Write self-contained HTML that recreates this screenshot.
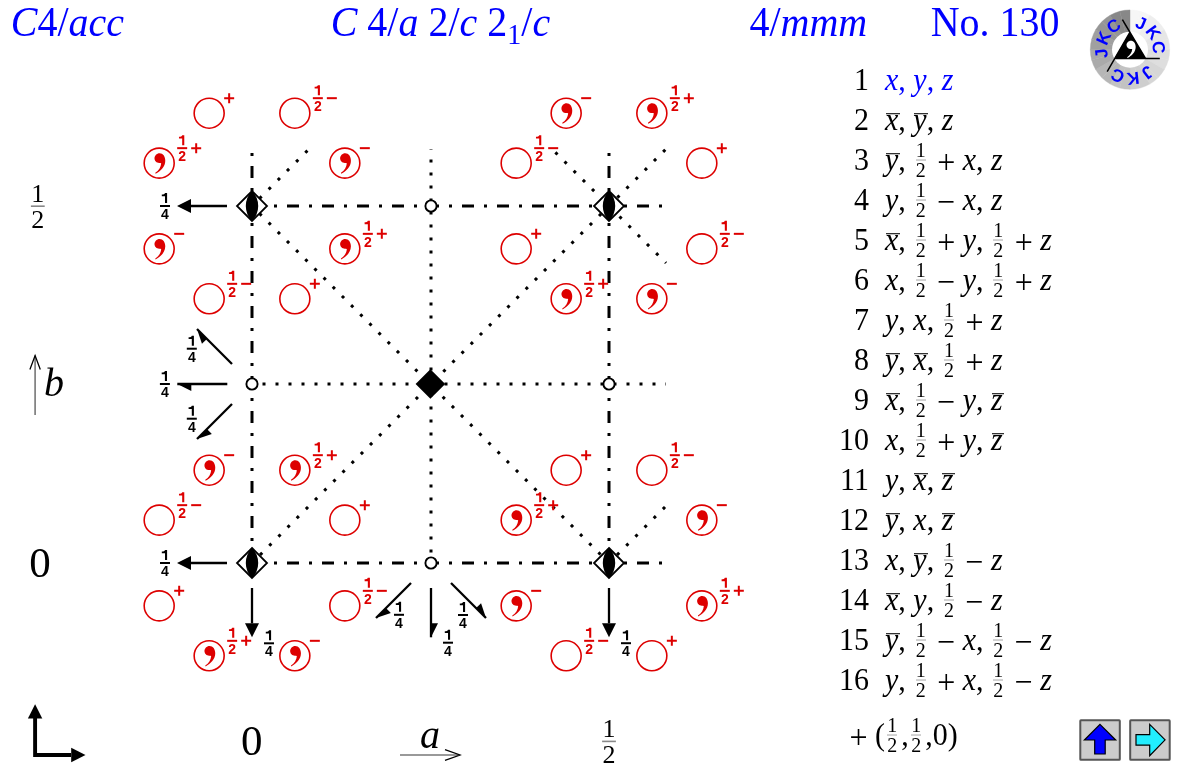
<!DOCTYPE html>
<html><head><meta charset="utf-8">
<style>
html,body{margin:0;padding:0;background:#fff;width:1180px;height:770px;overflow:hidden}
body{position:relative;font-family:"Liberation Serif",serif}
svg{position:absolute;left:0;top:0;will-change:transform}
.row{will-change:transform;transform:scaleY(1.05);transform-origin:0 30.1px;position:absolute;left:0;width:1180px;height:40px;font-size:30px;line-height:40px;white-space:nowrap}
.n{position:absolute;right:311px;top:0}
.c{position:absolute;left:885px;top:0}
.blue{color:#0000ff}
.op{font-size:32px;position:relative;top:2.5px;line-height:0}
.ov{position:relative}
.ov::after{content:"";position:absolute;left:0.02em;right:-0.06em;top:11px;border-top:1.1px solid currentColor}
.fr{display:inline-block;vertical-align:-7.4px;font-size:20px;line-height:18.2px;text-align:center;margin:0 4px 0 2.3px}
.fr span{display:block}
.fr .b{border-top:1.5px solid #aaa}
.lb{font-family:"Liberation Sans",sans-serif;font-weight:bold;font-size:14px;text-anchor:middle}
</style></head><body>
<svg width="1180" height="770" viewBox="0 0 1180 770">
<path d="M252 206H666M252 563H666" stroke="#000" stroke-width="3" fill="none" stroke-dasharray="12 10 3 10"/>
<path d="M252 563V149M609 563V149" stroke="#000" stroke-width="3" fill="none" stroke-dasharray="12 10 3 10"/>
<path d="M249.5 384H666" stroke="#000" stroke-width="3" fill="none" stroke-dasharray="3 10"/>
<path d="M431 565.5V149" stroke="#000" stroke-width="3" fill="none" stroke-dasharray="3 10"/>
<path d="M252 206L609.00 563.00" stroke="#000" stroke-width="3" fill="none" stroke-dasharray="3 9.954" stroke-dashoffset="2.350"/>
<path d="M252 206L308.00 150.00" stroke="#000" stroke-width="3" fill="none" stroke-dasharray="3 9.954" stroke-dashoffset="2.350"/>
<path d="M252 563L666.00 149.00" stroke="#000" stroke-width="3" fill="none" stroke-dasharray="3 9.954" stroke-dashoffset="1.500"/>
<path d="M609 563L666.00 506.00" stroke="#000" stroke-width="3" fill="none" stroke-dasharray="3 9.954" stroke-dashoffset="1.500"/>
<path d="M609 206L553.00 150.00" stroke="#000" stroke-width="3" fill="none" stroke-dasharray="3 9.954" stroke-dashoffset="-8.060"/>
<path d="M609 206L666.00 263.00" stroke="#000" stroke-width="3" fill="none" stroke-dasharray="3 9.954" stroke-dashoffset="-1.894"/>
<path d="M252 191.0L267.0 206L252 221.0L237.0 206Z" fill="#fff" stroke="#000" stroke-width="1.8"/>
<path d="M252 190.8A21.73 21.73 0 0 1 252 221.2A21.73 21.73 0 0 1 252 190.8Z" fill="#000"/>
<path d="M609 191.0L624.0 206L609 221.0L594.0 206Z" fill="#fff" stroke="#000" stroke-width="1.8"/>
<path d="M609 190.8A21.73 21.73 0 0 1 609 221.2A21.73 21.73 0 0 1 609 190.8Z" fill="#000"/>
<path d="M252 548.0L267.0 563L252 578.0L237.0 563Z" fill="#fff" stroke="#000" stroke-width="1.8"/>
<path d="M252 547.8A21.73 21.73 0 0 1 252 578.2A21.73 21.73 0 0 1 252 547.8Z" fill="#000"/>
<path d="M609 548.0L624.0 563L609 578.0L594.0 563Z" fill="#fff" stroke="#000" stroke-width="1.8"/>
<path d="M609 547.8A21.73 21.73 0 0 1 609 578.2A21.73 21.73 0 0 1 609 547.8Z" fill="#000"/>
<path d="M430.4 369.2L445.2 384.0L430.4 398.8L415.59999999999997 384.0Z" fill="#000"/>
<circle cx="252" cy="384" r="5.6" fill="#fff" stroke="#000" stroke-width="1.9"/>
<circle cx="431" cy="206" r="5.6" fill="#fff" stroke="#000" stroke-width="1.9"/>
<circle cx="609" cy="384" r="5.6" fill="#fff" stroke="#000" stroke-width="1.9"/>
<circle cx="431" cy="563" r="5.6" fill="#fff" stroke="#000" stroke-width="1.9"/>
<path d="M227.00 206.00L191.00 206.00" stroke="#000" stroke-width="2.3"/>
<path d="M177.00 206.00L191.00 213.00L191.00 199.00Z" fill="#000"/>
<path d="M227.00 563.00L191.00 563.00" stroke="#000" stroke-width="2.3"/>
<path d="M177.00 563.00L191.00 570.00L191.00 556.00Z" fill="#000"/>
<path d="M252.00 588.00L252.00 623.30" stroke="#000" stroke-width="2.3"/>
<path d="M252.00 637.30L259.00 623.30L245.00 623.30Z" fill="#000"/>
<path d="M609.00 588.00L609.00 623.30" stroke="#000" stroke-width="2.3"/>
<path d="M609.00 637.30L616.00 623.30L602.00 623.30Z" fill="#000"/>
<path d="M227.30 384.00L177.30 384.00" stroke="#000" stroke-width="2.3"/>
<path d="M177.30 384.00L191.30 391.00L191.30 384.00Z" fill="#000"/>
<path d="M232.00 364.00L197.00 329.00" stroke="#000" stroke-width="2.3"/>
<path d="M197.00 329.00L201.95 343.85L206.90 338.90Z" fill="#000"/>
<path d="M232.00 404.00L197.00 439.00" stroke="#000" stroke-width="2.3"/>
<path d="M197.00 439.00L211.85 434.05L206.90 429.10Z" fill="#000"/>
<path d="M431.00 588.00L431.00 637.30" stroke="#000" stroke-width="2.3"/>
<path d="M431.00 637.30L438.00 623.30L431.00 623.30Z" fill="#000"/>
<path d="M411.00 583.00L376.00 618.00" stroke="#000" stroke-width="2.3"/>
<path d="M376.00 618.00L390.85 613.05L385.90 608.10Z" fill="#000"/>
<path d="M451.00 583.00L486.00 618.00" stroke="#000" stroke-width="2.3"/>
<path d="M486.00 618.00L481.05 603.15L476.10 608.10Z" fill="#000"/>
<path d="M160 206H170" stroke="#000" stroke-width="2"/>
<path transform="translate(165 206)" d="M0 -13H2.1V-3H0V-9.7H-3.2V-11.5C-1.6 -11.5 -0.2 -12 0 -13Z" fill="#000"/>
<text x="165" y="219.1" class="lb" fill="#000">4</text>
<path d="M160 563H170" stroke="#000" stroke-width="2"/>
<path transform="translate(165 563)" d="M0 -13H2.1V-3H0V-9.7H-3.2V-11.5C-1.6 -11.5 -0.2 -12 0 -13Z" fill="#000"/>
<text x="165" y="576.1" class="lb" fill="#000">4</text>
<path d="M264 643.3H274" stroke="#000" stroke-width="2"/>
<path transform="translate(269 643.3)" d="M0 -13H2.1V-3H0V-9.7H-3.2V-11.5C-1.6 -11.5 -0.2 -12 0 -13Z" fill="#000"/>
<text x="269" y="656.4" class="lb" fill="#000">4</text>
<path d="M621 643.2H631" stroke="#000" stroke-width="2"/>
<path transform="translate(626 643.2)" d="M0 -13H2.1V-3H0V-9.7H-3.2V-11.5C-1.6 -11.5 -0.2 -12 0 -13Z" fill="#000"/>
<text x="626" y="656.3000000000001" class="lb" fill="#000">4</text>
<path d="M186.8 348.7H196.8" stroke="#000" stroke-width="2"/>
<path transform="translate(191.8 348.7)" d="M0 -13H2.1V-3H0V-9.7H-3.2V-11.5C-1.6 -11.5 -0.2 -12 0 -13Z" fill="#000"/>
<text x="191.8" y="361.8" class="lb" fill="#000">4</text>
<path d="M159.9 384H169.9" stroke="#000" stroke-width="2"/>
<path transform="translate(164.9 384)" d="M0 -13H2.1V-3H0V-9.7H-3.2V-11.5C-1.6 -11.5 -0.2 -12 0 -13Z" fill="#000"/>
<text x="164.9" y="397.1" class="lb" fill="#000">4</text>
<path d="M186.8 418.7H196.8" stroke="#000" stroke-width="2"/>
<path transform="translate(191.8 418.7)" d="M0 -13H2.1V-3H0V-9.7H-3.2V-11.5C-1.6 -11.5 -0.2 -12 0 -13Z" fill="#000"/>
<text x="191.8" y="431.8" class="lb" fill="#000">4</text>
<path d="M394 614.8H404" stroke="#000" stroke-width="2"/>
<path transform="translate(399 614.8)" d="M0 -13H2.1V-3H0V-9.7H-3.2V-11.5C-1.6 -11.5 -0.2 -12 0 -13Z" fill="#000"/>
<text x="399" y="627.9" class="lb" fill="#000">4</text>
<path d="M458 615H468" stroke="#000" stroke-width="2"/>
<path transform="translate(463 615)" d="M0 -13H2.1V-3H0V-9.7H-3.2V-11.5C-1.6 -11.5 -0.2 -12 0 -13Z" fill="#000"/>
<text x="463" y="628.1" class="lb" fill="#000">4</text>
<path d="M443 642.7H453" stroke="#000" stroke-width="2"/>
<path transform="translate(448 642.7)" d="M0 -13H2.1V-3H0V-9.7H-3.2V-11.5C-1.6 -11.5 -0.2 -12 0 -13Z" fill="#000"/>
<text x="448" y="655.8000000000001" class="lb" fill="#000">4</text>
<circle cx="344.82" cy="520.16" r="15" fill="none" stroke="#dd0000" stroke-width="1.6"/>
<path d="M359.82 505.15999999999997H369.82M364.82 500.15999999999997V510.15999999999997" stroke="#dd0000" stroke-width="2"/>
<circle cx="701.82" cy="163.16" r="15" fill="none" stroke="#dd0000" stroke-width="1.6"/>
<path d="M716.8199999999999 148.15999999999997H726.8199999999999M721.8199999999999 143.15999999999997V153.15999999999997" stroke="#dd0000" stroke-width="2"/>
<circle cx="159.18" cy="605.84" r="15" fill="none" stroke="#dd0000" stroke-width="1.6"/>
<path d="M174.18 590.84H184.18M179.18 585.84V595.84" stroke="#dd0000" stroke-width="2"/>
<circle cx="516.18" cy="248.84" r="15" fill="none" stroke="#dd0000" stroke-width="1.6"/>
<path d="M531.1800000000001 233.83999999999997H541.1800000000001M536.1800000000001 228.83999999999997V238.83999999999997" stroke="#dd0000" stroke-width="2"/>
<circle cx="209.16" cy="113.18" r="15" fill="none" stroke="#dd0000" stroke-width="1.6"/>
<path d="M224.16 98.18H234.16M229.16 93.18V103.18" stroke="#dd0000" stroke-width="2"/>
<circle cx="566.16" cy="470.18" r="15" fill="none" stroke="#dd0000" stroke-width="1.6"/>
<path d="M581.1600000000001 455.18000000000006H591.1600000000001M586.1600000000001 450.18000000000006V460.18000000000006" stroke="#dd0000" stroke-width="2"/>
<circle cx="294.84" cy="298.82" r="15" fill="none" stroke="#dd0000" stroke-width="1.6"/>
<path d="M309.84 283.82H319.84M314.84 278.82V288.82" stroke="#dd0000" stroke-width="2"/>
<circle cx="651.84" cy="655.82" r="15" fill="none" stroke="#dd0000" stroke-width="1.6"/>
<path d="M666.84 640.82H676.84M671.84 635.82V645.82" stroke="#dd0000" stroke-width="2"/>
<circle cx="159.18" cy="163.16" r="15" fill="none" stroke="#dd0000" stroke-width="1.6"/>
<path transform="translate(159.18 163.16)" d="M0.4 -9.84C-2.5 -9.84 -4.7 -7.2 -4.7 -4.8C-4.7 -2.2 -2.6 -0.1 0 -0.1C0.7 -0.1 1.4 0 2 0.1C1.8 4 -0.5 7.5 -3.9 9.6L-3.6 10.6C1.5 7.8 6.1 3.5 6.1 -2.5C6.1 -6.8 3.8 -9.84 0.4 -9.84Z" fill="#dd0000"/>
<path d="M177.18 148.15999999999997H187.18" stroke="#dd0000" stroke-width="2"/>
<path transform="translate(182.18 148.15999999999997)" d="M0 -13H2.1V-3H0V-9.7H-3.2V-11.5C-1.6 -11.5 -0.2 -12 0 -13Z" fill="#dd0000"/>
<text x="182.18" y="161.25999999999996" class="lb" fill="#dd0000">2</text>
<path d="M191.18 148.15999999999997H201.18M196.18 143.15999999999997V153.15999999999997" stroke="#dd0000" stroke-width="2"/>
<circle cx="516.18" cy="520.16" r="15" fill="none" stroke="#dd0000" stroke-width="1.6"/>
<path transform="translate(516.18 520.16)" d="M0.4 -9.84C-2.5 -9.84 -4.7 -7.2 -4.7 -4.8C-4.7 -2.2 -2.6 -0.1 0 -0.1C0.7 -0.1 1.4 0 2 0.1C1.8 4 -0.5 7.5 -3.9 9.6L-3.6 10.6C1.5 7.8 6.1 3.5 6.1 -2.5C6.1 -6.8 3.8 -9.84 0.4 -9.84Z" fill="#dd0000"/>
<path d="M534.1800000000001 505.15999999999997H544.1800000000001" stroke="#dd0000" stroke-width="2"/>
<path transform="translate(539.1800000000001 505.15999999999997)" d="M0 -13H2.1V-3H0V-9.7H-3.2V-11.5C-1.6 -11.5 -0.2 -12 0 -13Z" fill="#dd0000"/>
<text x="539.1800000000001" y="518.26" class="lb" fill="#dd0000">2</text>
<path d="M548.1800000000001 505.15999999999997H558.1800000000001M553.1800000000001 500.15999999999997V510.15999999999997" stroke="#dd0000" stroke-width="2"/>
<circle cx="344.82" cy="248.84" r="15" fill="none" stroke="#dd0000" stroke-width="1.6"/>
<path transform="translate(344.82 248.84)" d="M0.4 -9.84C-2.5 -9.84 -4.7 -7.2 -4.7 -4.8C-4.7 -2.2 -2.6 -0.1 0 -0.1C0.7 -0.1 1.4 0 2 0.1C1.8 4 -0.5 7.5 -3.9 9.6L-3.6 10.6C1.5 7.8 6.1 3.5 6.1 -2.5C6.1 -6.8 3.8 -9.84 0.4 -9.84Z" fill="#dd0000"/>
<path d="M362.82 233.83999999999997H372.82" stroke="#dd0000" stroke-width="2"/>
<path transform="translate(367.82 233.83999999999997)" d="M0 -13H2.1V-3H0V-9.7H-3.2V-11.5C-1.6 -11.5 -0.2 -12 0 -13Z" fill="#dd0000"/>
<text x="367.82" y="246.93999999999997" class="lb" fill="#dd0000">2</text>
<path d="M376.82 233.83999999999997H386.82M381.82 228.83999999999997V238.83999999999997" stroke="#dd0000" stroke-width="2"/>
<circle cx="701.82" cy="605.84" r="15" fill="none" stroke="#dd0000" stroke-width="1.6"/>
<path transform="translate(701.82 605.84)" d="M0.4 -9.84C-2.5 -9.84 -4.7 -7.2 -4.7 -4.8C-4.7 -2.2 -2.6 -0.1 0 -0.1C0.7 -0.1 1.4 0 2 0.1C1.8 4 -0.5 7.5 -3.9 9.6L-3.6 10.6C1.5 7.8 6.1 3.5 6.1 -2.5C6.1 -6.8 3.8 -9.84 0.4 -9.84Z" fill="#dd0000"/>
<path d="M719.8199999999999 590.84H729.8199999999999" stroke="#dd0000" stroke-width="2"/>
<path transform="translate(724.8199999999999 590.84)" d="M0 -13H2.1V-3H0V-9.7H-3.2V-11.5C-1.6 -11.5 -0.2 -12 0 -13Z" fill="#dd0000"/>
<text x="724.8199999999999" y="603.94" class="lb" fill="#dd0000">2</text>
<path d="M733.8199999999999 590.84H743.8199999999999M738.8199999999999 585.84V595.84" stroke="#dd0000" stroke-width="2"/>
<circle cx="294.84" cy="470.18" r="15" fill="none" stroke="#dd0000" stroke-width="1.6"/>
<path transform="translate(294.84 470.18)" d="M0.4 -9.84C-2.5 -9.84 -4.7 -7.2 -4.7 -4.8C-4.7 -2.2 -2.6 -0.1 0 -0.1C0.7 -0.1 1.4 0 2 0.1C1.8 4 -0.5 7.5 -3.9 9.6L-3.6 10.6C1.5 7.8 6.1 3.5 6.1 -2.5C6.1 -6.8 3.8 -9.84 0.4 -9.84Z" fill="#dd0000"/>
<path d="M312.84 455.18H322.84" stroke="#dd0000" stroke-width="2"/>
<path transform="translate(317.84 455.18)" d="M0 -13H2.1V-3H0V-9.7H-3.2V-11.5C-1.6 -11.5 -0.2 -12 0 -13Z" fill="#dd0000"/>
<text x="317.84" y="468.28000000000003" class="lb" fill="#dd0000">2</text>
<path d="M326.84 455.18H336.84M331.84 450.18V460.18" stroke="#dd0000" stroke-width="2"/>
<circle cx="651.84" cy="113.18" r="15" fill="none" stroke="#dd0000" stroke-width="1.6"/>
<path transform="translate(651.84 113.18)" d="M0.4 -9.84C-2.5 -9.84 -4.7 -7.2 -4.7 -4.8C-4.7 -2.2 -2.6 -0.1 0 -0.1C0.7 -0.1 1.4 0 2 0.1C1.8 4 -0.5 7.5 -3.9 9.6L-3.6 10.6C1.5 7.8 6.1 3.5 6.1 -2.5C6.1 -6.8 3.8 -9.84 0.4 -9.84Z" fill="#dd0000"/>
<path d="M669.84 98.18H679.84" stroke="#dd0000" stroke-width="2"/>
<path transform="translate(674.84 98.18)" d="M0 -13H2.1V-3H0V-9.7H-3.2V-11.5C-1.6 -11.5 -0.2 -12 0 -13Z" fill="#dd0000"/>
<text x="674.84" y="111.28" class="lb" fill="#dd0000">2</text>
<path d="M683.84 98.18H693.84M688.84 93.18V103.18" stroke="#dd0000" stroke-width="2"/>
<circle cx="209.16" cy="655.82" r="15" fill="none" stroke="#dd0000" stroke-width="1.6"/>
<path transform="translate(209.16 655.82)" d="M0.4 -9.84C-2.5 -9.84 -4.7 -7.2 -4.7 -4.8C-4.7 -2.2 -2.6 -0.1 0 -0.1C0.7 -0.1 1.4 0 2 0.1C1.8 4 -0.5 7.5 -3.9 9.6L-3.6 10.6C1.5 7.8 6.1 3.5 6.1 -2.5C6.1 -6.8 3.8 -9.84 0.4 -9.84Z" fill="#dd0000"/>
<path d="M227.16 640.82H237.16" stroke="#dd0000" stroke-width="2"/>
<path transform="translate(232.16 640.82)" d="M0 -13H2.1V-3H0V-9.7H-3.2V-11.5C-1.6 -11.5 -0.2 -12 0 -13Z" fill="#dd0000"/>
<text x="232.16" y="653.9200000000001" class="lb" fill="#dd0000">2</text>
<path d="M241.16 640.82H251.16M246.16 635.82V645.82" stroke="#dd0000" stroke-width="2"/>
<circle cx="566.16" cy="298.82" r="15" fill="none" stroke="#dd0000" stroke-width="1.6"/>
<path transform="translate(566.16 298.82)" d="M0.4 -9.84C-2.5 -9.84 -4.7 -7.2 -4.7 -4.8C-4.7 -2.2 -2.6 -0.1 0 -0.1C0.7 -0.1 1.4 0 2 0.1C1.8 4 -0.5 7.5 -3.9 9.6L-3.6 10.6C1.5 7.8 6.1 3.5 6.1 -2.5C6.1 -6.8 3.8 -9.84 0.4 -9.84Z" fill="#dd0000"/>
<path d="M584.1600000000001 283.82H594.1600000000001" stroke="#dd0000" stroke-width="2"/>
<path transform="translate(589.1600000000001 283.82)" d="M0 -13H2.1V-3H0V-9.7H-3.2V-11.5C-1.6 -11.5 -0.2 -12 0 -13Z" fill="#dd0000"/>
<text x="589.1600000000001" y="296.92" class="lb" fill="#dd0000">2</text>
<path d="M598.1600000000001 283.82H608.1600000000001M603.1600000000001 278.82V288.82" stroke="#dd0000" stroke-width="2"/>
<circle cx="159.18" cy="248.84" r="15" fill="none" stroke="#dd0000" stroke-width="1.6"/>
<path transform="translate(159.18 248.84)" d="M0.4 -9.84C-2.5 -9.84 -4.7 -7.2 -4.7 -4.8C-4.7 -2.2 -2.6 -0.1 0 -0.1C0.7 -0.1 1.4 0 2 0.1C1.8 4 -0.5 7.5 -3.9 9.6L-3.6 10.6C1.5 7.8 6.1 3.5 6.1 -2.5C6.1 -6.8 3.8 -9.84 0.4 -9.84Z" fill="#dd0000"/>
<path d="M174.18 233.83999999999997H184.18" stroke="#dd0000" stroke-width="2"/>
<circle cx="516.18" cy="605.84" r="15" fill="none" stroke="#dd0000" stroke-width="1.6"/>
<path transform="translate(516.18 605.84)" d="M0.4 -9.84C-2.5 -9.84 -4.7 -7.2 -4.7 -4.8C-4.7 -2.2 -2.6 -0.1 0 -0.1C0.7 -0.1 1.4 0 2 0.1C1.8 4 -0.5 7.5 -3.9 9.6L-3.6 10.6C1.5 7.8 6.1 3.5 6.1 -2.5C6.1 -6.8 3.8 -9.84 0.4 -9.84Z" fill="#dd0000"/>
<path d="M531.1800000000001 590.84H541.1800000000001" stroke="#dd0000" stroke-width="2"/>
<circle cx="344.82" cy="163.16" r="15" fill="none" stroke="#dd0000" stroke-width="1.6"/>
<path transform="translate(344.82 163.16)" d="M0.4 -9.84C-2.5 -9.84 -4.7 -7.2 -4.7 -4.8C-4.7 -2.2 -2.6 -0.1 0 -0.1C0.7 -0.1 1.4 0 2 0.1C1.8 4 -0.5 7.5 -3.9 9.6L-3.6 10.6C1.5 7.8 6.1 3.5 6.1 -2.5C6.1 -6.8 3.8 -9.84 0.4 -9.84Z" fill="#dd0000"/>
<path d="M359.82 148.15999999999997H369.82" stroke="#dd0000" stroke-width="2"/>
<circle cx="701.82" cy="520.16" r="15" fill="none" stroke="#dd0000" stroke-width="1.6"/>
<path transform="translate(701.82 520.16)" d="M0.4 -9.84C-2.5 -9.84 -4.7 -7.2 -4.7 -4.8C-4.7 -2.2 -2.6 -0.1 0 -0.1C0.7 -0.1 1.4 0 2 0.1C1.8 4 -0.5 7.5 -3.9 9.6L-3.6 10.6C1.5 7.8 6.1 3.5 6.1 -2.5C6.1 -6.8 3.8 -9.84 0.4 -9.84Z" fill="#dd0000"/>
<path d="M716.8199999999999 505.15999999999997H726.8199999999999" stroke="#dd0000" stroke-width="2"/>
<circle cx="294.84" cy="655.82" r="15" fill="none" stroke="#dd0000" stroke-width="1.6"/>
<path transform="translate(294.84 655.82)" d="M0.4 -9.84C-2.5 -9.84 -4.7 -7.2 -4.7 -4.8C-4.7 -2.2 -2.6 -0.1 0 -0.1C0.7 -0.1 1.4 0 2 0.1C1.8 4 -0.5 7.5 -3.9 9.6L-3.6 10.6C1.5 7.8 6.1 3.5 6.1 -2.5C6.1 -6.8 3.8 -9.84 0.4 -9.84Z" fill="#dd0000"/>
<path d="M309.84 640.82H319.84" stroke="#dd0000" stroke-width="2"/>
<circle cx="651.84" cy="298.82" r="15" fill="none" stroke="#dd0000" stroke-width="1.6"/>
<path transform="translate(651.84 298.82)" d="M0.4 -9.84C-2.5 -9.84 -4.7 -7.2 -4.7 -4.8C-4.7 -2.2 -2.6 -0.1 0 -0.1C0.7 -0.1 1.4 0 2 0.1C1.8 4 -0.5 7.5 -3.9 9.6L-3.6 10.6C1.5 7.8 6.1 3.5 6.1 -2.5C6.1 -6.8 3.8 -9.84 0.4 -9.84Z" fill="#dd0000"/>
<path d="M666.84 283.82H676.84" stroke="#dd0000" stroke-width="2"/>
<circle cx="209.16" cy="470.18" r="15" fill="none" stroke="#dd0000" stroke-width="1.6"/>
<path transform="translate(209.16 470.18)" d="M0.4 -9.84C-2.5 -9.84 -4.7 -7.2 -4.7 -4.8C-4.7 -2.2 -2.6 -0.1 0 -0.1C0.7 -0.1 1.4 0 2 0.1C1.8 4 -0.5 7.5 -3.9 9.6L-3.6 10.6C1.5 7.8 6.1 3.5 6.1 -2.5C6.1 -6.8 3.8 -9.84 0.4 -9.84Z" fill="#dd0000"/>
<path d="M224.16 455.18H234.16" stroke="#dd0000" stroke-width="2"/>
<circle cx="566.16" cy="113.18" r="15" fill="none" stroke="#dd0000" stroke-width="1.6"/>
<path transform="translate(566.16 113.18)" d="M0.4 -9.84C-2.5 -9.84 -4.7 -7.2 -4.7 -4.8C-4.7 -2.2 -2.6 -0.1 0 -0.1C0.7 -0.1 1.4 0 2 0.1C1.8 4 -0.5 7.5 -3.9 9.6L-3.6 10.6C1.5 7.8 6.1 3.5 6.1 -2.5C6.1 -6.8 3.8 -9.84 0.4 -9.84Z" fill="#dd0000"/>
<path d="M581.1600000000001 98.18H591.1600000000001" stroke="#dd0000" stroke-width="2"/>
<circle cx="344.82" cy="605.84" r="15" fill="none" stroke="#dd0000" stroke-width="1.6"/>
<path d="M362.82 590.84H372.82" stroke="#dd0000" stroke-width="2"/>
<path transform="translate(367.82 590.84)" d="M0 -13H2.1V-3H0V-9.7H-3.2V-11.5C-1.6 -11.5 -0.2 -12 0 -13Z" fill="#dd0000"/>
<text x="367.82" y="603.94" class="lb" fill="#dd0000">2</text>
<path d="M376.82 590.84H386.82" stroke="#dd0000" stroke-width="2"/>
<circle cx="701.82" cy="248.84" r="15" fill="none" stroke="#dd0000" stroke-width="1.6"/>
<path d="M719.8199999999999 233.83999999999997H729.8199999999999" stroke="#dd0000" stroke-width="2"/>
<path transform="translate(724.8199999999999 233.83999999999997)" d="M0 -13H2.1V-3H0V-9.7H-3.2V-11.5C-1.6 -11.5 -0.2 -12 0 -13Z" fill="#dd0000"/>
<text x="724.8199999999999" y="246.93999999999997" class="lb" fill="#dd0000">2</text>
<path d="M733.8199999999999 233.83999999999997H743.8199999999999" stroke="#dd0000" stroke-width="2"/>
<circle cx="159.18" cy="520.16" r="15" fill="none" stroke="#dd0000" stroke-width="1.6"/>
<path d="M177.18 505.15999999999997H187.18" stroke="#dd0000" stroke-width="2"/>
<path transform="translate(182.18 505.15999999999997)" d="M0 -13H2.1V-3H0V-9.7H-3.2V-11.5C-1.6 -11.5 -0.2 -12 0 -13Z" fill="#dd0000"/>
<text x="182.18" y="518.26" class="lb" fill="#dd0000">2</text>
<path d="M191.18 505.15999999999997H201.18" stroke="#dd0000" stroke-width="2"/>
<circle cx="516.18" cy="163.16" r="15" fill="none" stroke="#dd0000" stroke-width="1.6"/>
<path d="M534.1800000000001 148.15999999999997H544.1800000000001" stroke="#dd0000" stroke-width="2"/>
<path transform="translate(539.1800000000001 148.15999999999997)" d="M0 -13H2.1V-3H0V-9.7H-3.2V-11.5C-1.6 -11.5 -0.2 -12 0 -13Z" fill="#dd0000"/>
<text x="539.1800000000001" y="161.25999999999996" class="lb" fill="#dd0000">2</text>
<path d="M548.1800000000001 148.15999999999997H558.1800000000001" stroke="#dd0000" stroke-width="2"/>
<circle cx="209.16" cy="298.82" r="15" fill="none" stroke="#dd0000" stroke-width="1.6"/>
<path d="M227.16 283.82H237.16" stroke="#dd0000" stroke-width="2"/>
<path transform="translate(232.16 283.82)" d="M0 -13H2.1V-3H0V-9.7H-3.2V-11.5C-1.6 -11.5 -0.2 -12 0 -13Z" fill="#dd0000"/>
<text x="232.16" y="296.92" class="lb" fill="#dd0000">2</text>
<path d="M241.16 283.82H251.16" stroke="#dd0000" stroke-width="2"/>
<circle cx="566.16" cy="655.82" r="15" fill="none" stroke="#dd0000" stroke-width="1.6"/>
<path d="M584.1600000000001 640.82H594.1600000000001" stroke="#dd0000" stroke-width="2"/>
<path transform="translate(589.1600000000001 640.82)" d="M0 -13H2.1V-3H0V-9.7H-3.2V-11.5C-1.6 -11.5 -0.2 -12 0 -13Z" fill="#dd0000"/>
<text x="589.1600000000001" y="653.9200000000001" class="lb" fill="#dd0000">2</text>
<path d="M598.1600000000001 640.82H608.1600000000001" stroke="#dd0000" stroke-width="2"/>
<circle cx="294.84" cy="113.18" r="15" fill="none" stroke="#dd0000" stroke-width="1.6"/>
<path d="M312.84 98.18H322.84" stroke="#dd0000" stroke-width="2"/>
<path transform="translate(317.84 98.18)" d="M0 -13H2.1V-3H0V-9.7H-3.2V-11.5C-1.6 -11.5 -0.2 -12 0 -13Z" fill="#dd0000"/>
<text x="317.84" y="111.28" class="lb" fill="#dd0000">2</text>
<path d="M326.84 98.18H336.84" stroke="#dd0000" stroke-width="2"/>
<circle cx="651.84" cy="470.18" r="15" fill="none" stroke="#dd0000" stroke-width="1.6"/>
<path d="M669.84 455.18000000000006H679.84" stroke="#dd0000" stroke-width="2"/>
<path transform="translate(674.84 455.18000000000006)" d="M0 -13H2.1V-3H0V-9.7H-3.2V-11.5C-1.6 -11.5 -0.2 -12 0 -13Z" fill="#dd0000"/>
<text x="674.84" y="468.2800000000001" class="lb" fill="#dd0000">2</text>
<path d="M683.84 455.18000000000006H693.84" stroke="#dd0000" stroke-width="2"/>
<path d="M35.1 718V755H71" stroke="#000" stroke-width="3.9" fill="none"/>
<path d="M35.1 704.3L42.3 718.6H27.9Z" fill="#000"/>
<path d="M85.5 755L71.2 747.8V762.2Z" fill="#000"/>
<g fill="#0000ff" font-family="Liberation Serif" font-size="40" transform="matrix(1 0 0 1.035 0 -1.25)">
<text x="10.8" y="35.6"><tspan font-style="italic">C</tspan>4/<tspan font-style="italic">acc</tspan></text>
<text x="330.7" y="35.6"><tspan font-style="italic">C</tspan> 4/<tspan font-style="italic">a</tspan> 2/<tspan font-style="italic">c</tspan> 2<tspan font-size="28" dy="8">1</tspan><tspan dy="-8">/</tspan><tspan font-style="italic">c</tspan></text>
<text x="749.5" y="35.6">4/<tspan font-style="italic">mmm</tspan></text>
<text x="930.7" y="35.6">No. 130</text>
</g>
<text x="37.8" y="201.89999999999998" font-family="Liberation Serif" font-size="26" text-anchor="middle" fill="#000">1</text>
<text x="37.8" y="227.7" font-family="Liberation Serif" font-size="26" text-anchor="middle" fill="#000">2</text>
<path d="M30.9 206.2H44.699999999999996" stroke="#888" stroke-width="1.6"/>
<text x="609" y="737.1" font-family="Liberation Serif" font-size="26" text-anchor="middle" fill="#000">1</text>
<text x="609" y="762.9" font-family="Liberation Serif" font-size="26" text-anchor="middle" fill="#000">2</text>
<path d="M602.1 741.4H615.9" stroke="#888" stroke-width="1.6"/>
<text x="40" y="576.6" font-family="Liberation Serif" font-size="43" text-anchor="middle">0</text>
<text x="251.8" y="755.4" font-family="Liberation Serif" font-size="43" text-anchor="middle">0</text>
<text x="44" y="395.5" font-family="Liberation Serif" font-style="italic" font-size="40">b</text>
<text x="420" y="747.5" font-family="Liberation Serif" font-style="italic" font-size="40">a</text>
<path d="M35.1 415V355.5" stroke="#777" stroke-width="1.6"/>
<path d="M29.9 369.5L35.1 355.6L40.3 369.5" stroke="#000" stroke-width="1.3" fill="none"/>
<path d="M400 755H458.5" stroke="#777" stroke-width="1.6"/>
<path d="M445 749.6L460 755L445 760.4" stroke="#000" stroke-width="1.3" fill="none"/>
<path d="M1130 49.65L1130.00 9.95A39.7 39.7 0 0 1 1140.28 11.30Z" fill="#f6f6f6" stroke="#f6f6f6" stroke-width="0.4"/>
<path d="M1130 49.65L1140.28 11.30A39.7 39.7 0 0 1 1149.85 15.27Z" fill="#f6f6f6" stroke="#f6f6f6" stroke-width="0.4"/>
<path d="M1130 49.65L1149.85 15.27A39.7 39.7 0 0 1 1158.07 21.58Z" fill="#eeeeee" stroke="#eeeeee" stroke-width="0.4"/>
<path d="M1130 49.65L1158.07 21.58A39.7 39.7 0 0 1 1164.38 29.80Z" fill="#eeeeee" stroke="#eeeeee" stroke-width="0.4"/>
<path d="M1130 49.65L1164.38 29.80A39.7 39.7 0 0 1 1168.35 39.37Z" fill="#e6e6e6" stroke="#e6e6e6" stroke-width="0.4"/>
<path d="M1130 49.65L1168.35 39.37A39.7 39.7 0 0 1 1169.70 49.65Z" fill="#e6e6e6" stroke="#e6e6e6" stroke-width="0.4"/>
<path d="M1130 49.65L1169.70 49.65A39.7 39.7 0 0 1 1168.35 59.93Z" fill="#dedede" stroke="#dedede" stroke-width="0.4"/>
<path d="M1130 49.65L1168.35 59.93A39.7 39.7 0 0 1 1164.38 69.50Z" fill="#dedede" stroke="#dedede" stroke-width="0.4"/>
<path d="M1130 49.65L1164.38 69.50A39.7 39.7 0 0 1 1158.07 77.72Z" fill="#d6d6d6" stroke="#d6d6d6" stroke-width="0.4"/>
<path d="M1130 49.65L1158.07 77.72A39.7 39.7 0 0 1 1149.85 84.03Z" fill="#d6d6d6" stroke="#d6d6d6" stroke-width="0.4"/>
<path d="M1130 49.65L1149.85 84.03A39.7 39.7 0 0 1 1140.28 88.00Z" fill="#cecece" stroke="#cecece" stroke-width="0.4"/>
<path d="M1130 49.65L1140.28 88.00A39.7 39.7 0 0 1 1130.00 89.35Z" fill="#cecece" stroke="#cecece" stroke-width="0.4"/>
<path d="M1130 49.65L1130.00 89.35A39.7 39.7 0 0 1 1119.72 88.00Z" fill="#c2c2c2" stroke="#c2c2c2" stroke-width="0.4"/>
<path d="M1130 49.65L1119.72 88.00A39.7 39.7 0 0 1 1110.15 84.03Z" fill="#c2c2c2" stroke="#c2c2c2" stroke-width="0.4"/>
<path d="M1130 49.65L1110.15 84.03A39.7 39.7 0 0 1 1101.93 77.72Z" fill="#b6b6b6" stroke="#b6b6b6" stroke-width="0.4"/>
<path d="M1130 49.65L1101.93 77.72A39.7 39.7 0 0 1 1095.62 69.50Z" fill="#b6b6b6" stroke="#b6b6b6" stroke-width="0.4"/>
<path d="M1130 49.65L1095.62 69.50A39.7 39.7 0 0 1 1091.65 59.93Z" fill="#aaaaaa" stroke="#aaaaaa" stroke-width="0.4"/>
<path d="M1130 49.65L1091.65 59.93A39.7 39.7 0 0 1 1090.30 49.65Z" fill="#aaaaaa" stroke="#aaaaaa" stroke-width="0.4"/>
<path d="M1130 49.65L1090.30 49.65A39.7 39.7 0 0 1 1091.65 39.37Z" fill="#a0a0a0" stroke="#a0a0a0" stroke-width="0.4"/>
<path d="M1130 49.65L1091.65 39.37A39.7 39.7 0 0 1 1095.62 29.80Z" fill="#a0a0a0" stroke="#a0a0a0" stroke-width="0.4"/>
<path d="M1130 49.65L1095.62 29.80A39.7 39.7 0 0 1 1101.93 21.58Z" fill="#969696" stroke="#969696" stroke-width="0.4"/>
<path d="M1130 49.65L1101.93 21.58A39.7 39.7 0 0 1 1110.15 15.27Z" fill="#969696" stroke="#969696" stroke-width="0.4"/>
<path d="M1130 49.65L1110.15 15.27A39.7 39.7 0 0 1 1119.72 11.30Z" fill="#888888" stroke="#888888" stroke-width="0.4"/>
<path d="M1130 49.65L1119.72 11.30A39.7 39.7 0 0 1 1130.00 9.95Z" fill="#888888" stroke="#888888" stroke-width="0.4"/>
<circle cx="1130" cy="49.65" r="18" fill="#fff"/>
<path d="M1130 32L1145.5 58.5H1114.5Z" fill="#000"/>
<path d="M1122.4 19.6L1145.5 58.5M1130 32L1107.2 71.6M1114.5 58.5H1159.8" stroke="#000" stroke-width="1.5"/>
<path transform="translate(1130.5 49) scale(0.85)" d="M0.4 -9.84C-2.5 -9.84 -4.7 -7.2 -4.7 -4.8C-4.7 -2.2 -2.6 -0.1 0 -0.1C0.7 -0.1 1.4 0 2 0.1C1.8 4 -0.5 7.5 -3.9 9.6L-3.6 10.6C1.5 7.8 6.1 3.5 6.1 -2.5C6.1 -6.8 3.8 -9.84 0.4 -9.84Z" fill="#fff"/>
<text x="1141.02" y="23.04" transform="rotate(22.5 1141.02 23.04)" font-family="Liberation Sans" font-weight="bold" font-size="17.5" fill="#0000ff" text-anchor="middle" dominant-baseline="central">J</text>
<text x="1153.30" y="32.72" transform="rotate(54.0 1153.30 32.72)" font-family="Liberation Sans" font-weight="bold" font-size="17.5" fill="#0000ff" text-anchor="middle" dominant-baseline="central">K</text>
<text x="1158.71" y="47.39" transform="rotate(85.5 1158.71 47.39)" font-family="Liberation Sans" font-weight="bold" font-size="17.5" fill="#0000ff" text-anchor="middle" dominant-baseline="central">C</text>
<text x="1147.53" y="72.50" transform="rotate(142.5 1147.53 72.50)" font-family="Liberation Sans" font-weight="bold" font-size="17.5" fill="#0000ff" text-anchor="middle" dominant-baseline="central">J</text>
<text x="1133.01" y="78.29" transform="rotate(174.0 1133.01 78.29)" font-family="Liberation Sans" font-weight="bold" font-size="17.5" fill="#0000ff" text-anchor="middle" dominant-baseline="central">K</text>
<text x="1117.60" y="75.64" transform="rotate(205.5 1117.60 75.64)" font-family="Liberation Sans" font-weight="bold" font-size="17.5" fill="#0000ff" text-anchor="middle" dominant-baseline="central">C</text>
<text x="1101.45" y="53.41" transform="rotate(262.5 1101.45 53.41)" font-family="Liberation Sans" font-weight="bold" font-size="17.5" fill="#0000ff" text-anchor="middle" dominant-baseline="central">J</text>
<text x="1103.69" y="37.94" transform="rotate(294.0 1103.69 37.94)" font-family="Liberation Sans" font-weight="bold" font-size="17.5" fill="#0000ff" text-anchor="middle" dominant-baseline="central">K</text>
<text x="1113.69" y="25.92" transform="rotate(325.5 1113.69 25.92)" font-family="Liberation Sans" font-weight="bold" font-size="17.5" fill="#0000ff" text-anchor="middle" dominant-baseline="central">C</text>
<rect x="1080.3" y="720.3" width="39.5" height="39.5" fill="#ccc" stroke="#555" stroke-width="2" rx="0.6"/>
<rect x="1130.2" y="720.3" width="39.5" height="39.5" fill="#ccc" stroke="#555" stroke-width="2" rx="0.6"/>
<path d="M1100 724.4L1115.7 740H1105.2V754H1094.7V740H1084.4Z" fill="#0000ff" stroke="#000" stroke-width="1.2" stroke-linejoin="miter"/>
<path d="M1165.1 739.8L1149.7 724.4V734.7H1136V745.2H1149.7V755.7Z" fill="#22eeff" stroke="#000" stroke-width="1.2"/>
</svg>
<div class="row" style="top:59.9px"><span class="n">1</span><span class="c"><span class="blue"><i>x</i>, <i>y</i>, <i>z</i></span></span></div>
<div class="row" style="top:99.9px"><span class="n">2</span><span class="c"><span class="ov"><i>x</i></span>, <span class="ov"><i>y</i></span>, <i>z</i></span></div>
<div class="row" style="top:139.9px"><span class="n">3</span><span class="c"><span class="ov"><i>y</i></span>, <span class="fr"><span>1</span><span class="b">2</span></span> <span class="op">+</span> <i>x</i>, <i>z</i></span></div>
<div class="row" style="top:179.9px"><span class="n">4</span><span class="c"><i>y</i>, <span class="fr"><span>1</span><span class="b">2</span></span> <span class="op">&minus;</span> <i>x</i>, <i>z</i></span></div>
<div class="row" style="top:219.9px"><span class="n">5</span><span class="c"><span class="ov"><i>x</i></span>, <span class="fr"><span>1</span><span class="b">2</span></span> <span class="op">+</span> <i>y</i>, <span class="fr"><span>1</span><span class="b">2</span></span> <span class="op">+</span> <i>z</i></span></div>
<div class="row" style="top:259.9px"><span class="n">6</span><span class="c"><i>x</i>, <span class="fr"><span>1</span><span class="b">2</span></span> <span class="op">&minus;</span> <i>y</i>, <span class="fr"><span>1</span><span class="b">2</span></span> <span class="op">+</span> <i>z</i></span></div>
<div class="row" style="top:299.9px"><span class="n">7</span><span class="c"><i>y</i>, <i>x</i>, <span class="fr"><span>1</span><span class="b">2</span></span> <span class="op">+</span> <i>z</i></span></div>
<div class="row" style="top:339.9px"><span class="n">8</span><span class="c"><span class="ov"><i>y</i></span>, <span class="ov"><i>x</i></span>, <span class="fr"><span>1</span><span class="b">2</span></span> <span class="op">+</span> <i>z</i></span></div>
<div class="row" style="top:379.9px"><span class="n">9</span><span class="c"><span class="ov"><i>x</i></span>, <span class="fr"><span>1</span><span class="b">2</span></span> <span class="op">&minus;</span> <i>y</i>, <span class="ov"><i>z</i></span></span></div>
<div class="row" style="top:419.9px"><span class="n">10</span><span class="c"><i>x</i>, <span class="fr"><span>1</span><span class="b">2</span></span> <span class="op">+</span> <i>y</i>, <span class="ov"><i>z</i></span></span></div>
<div class="row" style="top:459.9px"><span class="n">11</span><span class="c"><i>y</i>, <span class="ov"><i>x</i></span>, <span class="ov"><i>z</i></span></span></div>
<div class="row" style="top:499.9px"><span class="n">12</span><span class="c"><span class="ov"><i>y</i></span>, <i>x</i>, <span class="ov"><i>z</i></span></span></div>
<div class="row" style="top:539.9px"><span class="n">13</span><span class="c"><i>x</i>, <span class="ov"><i>y</i></span>, <span class="fr"><span>1</span><span class="b">2</span></span> <span class="op">&minus;</span> <i>z</i></span></div>
<div class="row" style="top:579.9px"><span class="n">14</span><span class="c"><span class="ov"><i>x</i></span>, <i>y</i>, <span class="fr"><span>1</span><span class="b">2</span></span> <span class="op">&minus;</span> <i>z</i></span></div>
<div class="row" style="top:619.9px"><span class="n">15</span><span class="c"><span class="ov"><i>y</i></span>, <span class="fr"><span>1</span><span class="b">2</span></span> <span class="op">&minus;</span> <i>x</i>, <span class="fr"><span>1</span><span class="b">2</span></span> <span class="op">&minus;</span> <i>z</i></span></div>
<div class="row" style="top:659.9px"><span class="n">16</span><span class="c"><i>y</i>, <span class="fr"><span>1</span><span class="b">2</span></span> <span class="op">+</span> <i>x</i>, <span class="fr"><span>1</span><span class="b">2</span></span> <span class="op">&minus;</span> <i>z</i></span></div>
<div class="row" style="top:715.4px"><span class="c" style="left:849.5px"><span class="op">+</span> (<span class="fr"><span>1</span><span class="b">2</span></span>,<span class="fr"><span>1</span><span class="b">2</span></span>,0)</span></div>
</body></html>
